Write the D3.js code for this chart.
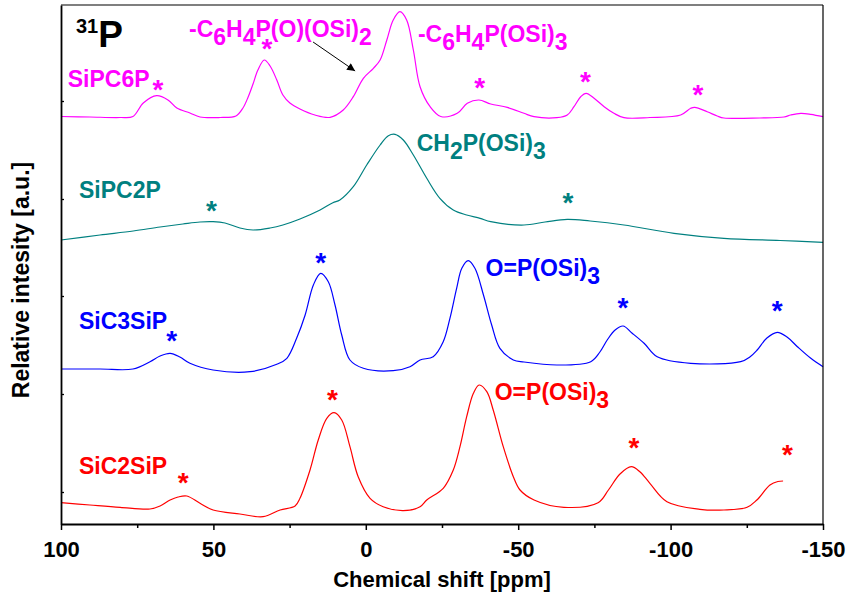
<!DOCTYPE html>
<html><head><meta charset="utf-8">
<script src="https://cdn.jsdelivr.net/npm/d3@7"></script>
<style>
body{margin:0;background:#fff}
text{font-family:"Liberation Sans",Arial,sans-serif;font-weight:bold}
</style>
</head><body><svg id="chart" width="848" height="599"></svg>
<script>
// ---- data: [chemical shift (ppm), relative intensity (a.u.)] ----
const SiPC6P = [[100,407.5],[90.5,407],[80.6,406.5],[76.4,407.5],[73.0,421],[68.6,428.3],[64.9,424],[62.0,416],[57.7,411],[54.4,407],[47.8,406.5],[42.6,408],[40.3,416],[38.6,427],[37.0,440],[35.4,454],[33.3,464],[31.4,458],[29.2,444],[27.2,429],[24.9,421],[21.6,415],[16.7,409],[11.7,406.7],[7.4,414],[4.1,427.3],[0.8,445.7],[-2.5,455.7],[-4.7,464],[-6.9,484],[-9.0,504],[-11.2,512.3],[-13.4,504],[-15.6,474],[-17.8,437.3],[-21.1,417.3],[-24.6,407.5],[-30.0,410.7],[-33.3,420.7],[-37.1,424],[-41.0,420],[-46.4,416.7],[-51.9,410.7],[-55.2,407.3],[-62.7,406.3],[-66.1,409],[-68.3,417.3],[-70.5,427.3],[-72.3,430.7],[-74.9,425.7],[-78.2,417.3],[-81.4,410.7],[-84.7,406.3],[-93.2,406.5],[-103.3,409],[-106.6,415.7],[-107.9,416.7],[-112.0,412.3],[-115.3,408],[-117.5,406],[-129.3,406],[-137.2,407],[-139.4,409],[-142.7,410.7],[-146.0,409.7],[-150,407.3]];
const SiPC2P = [[100,284],[87.2,289],[76.3,293],[67.5,297],[60.0,300],[54.4,302],[50.1,302.3],[46.2,301],[41.3,296],[37.0,294],[31.4,296],[27.2,299],[21.6,305],[15.0,314],[10.8,321.3],[8.5,324],[4.1,337.3],[-0.3,359],[-4.7,379],[-7.4,388.3],[-9.6,389.7],[-12.3,384],[-15.6,369],[-20.0,345.7],[-24.3,325.7],[-28.7,314],[-33.1,309],[-37.5,305.7],[-41.0,302.3],[-51.9,299],[-58.8,302],[-66.1,304.7],[-73.6,303],[-84.7,299],[-101.1,290.7],[-117.5,285.7],[-135.9,283.5],[-150,281.7]];
const SiC3SiP = [[100,155],[87.2,155],[76.4,155],[70.8,162.3],[67.5,168],[64.2,170.7],[61.0,167],[57.7,160.7],[50.1,154],[38.0,152.3],[29.2,159.7],[25.9,165.7],[22.7,185.7],[19.9,209],[17.2,239],[14.8,250.7],[12.3,242.3],[10.1,219],[7.9,189],[5.2,164],[0.8,155.7],[-9.0,153.3],[-14.5,157.3],[-17.8,164],[-22.1,167.3],[-25.4,182.3],[-27.6,205.7],[-29.8,235.7],[-31.5,255.7],[-33.6,263.3],[-35.8,255.7],[-38.6,229],[-41.3,199],[-44.0,175.7],[-48.4,164],[-51.9,162],[-62.8,159],[-73.8,162.3],[-76.8,172],[-79.2,184],[-81.8,194],[-84.4,198],[-87.3,191],[-91.3,180.7],[-95.6,167.3],[-106.6,160.7],[-123.0,162.3],[-126.0,167],[-128.4,174],[-131.6,186],[-135.0,191.7],[-138.2,187],[-141.6,177.3],[-146.0,165.7],[-150,157.3]];
const SiC2SiP = [[100,21.3],[90.5,19],[80.6,16.7],[70.8,15],[67.5,18],[64.2,24],[61.6,27],[58.7,28],[54.4,20.7],[50.1,14],[41.3,10],[33.7,7.3],[28.1,14],[23.2,18],[21.6,25.7],[18.3,54],[15.6,84],[12.8,105.7],[10.4,111.3],[7.9,104],[5.2,77.3],[2.5,47.3],[-1.4,25.7],[-5.7,17.3],[-12.3,13.3],[-17.8,17.3],[-20.0,24],[-25.4,35.7],[-28.7,54],[-30.9,77.3],[-33.1,107.3],[-35.3,130.7],[-37.2,139],[-39.7,132.3],[-41.8,114],[-45.1,77.3],[-48.4,47.3],[-50.6,34],[-55.2,24],[-65.0,16.7],[-76.2,21.3],[-79.6,34],[-83.4,50],[-87.1,57.3],[-90.0,52],[-93.2,40.7],[-98.8,22.3],[-109.6,14.7],[-117.5,14],[-125.1,16.7],[-128.3,24],[-132.6,39],[-135.2,42.5],[-136.9,43]];

const seriesNames = ["SiPC6P","SiPC2P","SiC3SiP","SiC2SiP"];
const seriesData  = [SiPC6P, SiPC2P, SiC3SiP, SiC2SiP];
const seriesColors = ["#FF00FF","#008080","#0000FF","#FF0000"];

// series name labels: [name, ppm, intensity]
const nameLabels = [["SiPC6P",97.8,436.7],["SiPC2P",94.1,326.3],["SiC3SiP",94.1,194.7],["SiC2SiP",94.1,49.7]];
// assignment labels ("_" marks a subscript character): [text, ppm, intensity, series index]
const peakLabels = [["-C_6H_4P(O)(OSi)_2",58.0,487,0],["-C_6H_4P(OSi)_3",-17.1,482.3,0],["CH_2P(OSi)_3",-16.7,373,1],["O=P(OSi)_3",-39.3,248,2],["O=P(OSi)_3",-42.3,124,3]];
// spinning side bands (*): [ppm, intensity, series index]
const stars = [[68.2,441,0],[32.4,482,0],[-37.4,442.3,0],[-72.1,449,0],[-109.0,435.7,0],
  [50.6,320,1],[-66.3,328,1],
  [63.7,189.3,2],[14.8,267.7,2],[-84.4,223,2],[-135.0,220,2],
  [59.9,48,3],[10.9,131,3],[-88.0,82.3,3],[-138.3,76,3]];
const arrowPts = [[17.3,482],[3.5,453]];

const xMajor = [100,50,0,-50,-100,-150];
const xMinor = [75,25,-25,-75,-125];
const yTicks = [32,130,228,325,423];

const svg = d3.select("#chart");
const W = 848, H = 599;
const m = {left:61, right:25, top:5, bottom:75};
const x = d3.scaleLinear().domain([100,-150]).range([m.left, W-m.right]);
const y = d3.scaleLinear().domain([0,519]).range([H-m.bottom, m.top]);

svg.append("rect").attr("width",W).attr("height",H).attr("fill","#fff");

// spectra
const line = d3.line().x(d=>x(d[0])).y(d=>y(d[1])).curve(d3.curveCatmullRom.alpha(0.5));
seriesData.forEach((s,i)=>{
  svg.append("path").datum(s).attr("d",line).attr("fill","none")
    .attr("stroke",seriesColors[i]).attr("stroke-width",1.2);
});

// frame
svg.append("line").attr("x1",x(100)).attr("x2",x(-150)).attr("y1",y(519)).attr("y2",y(519)).attr("stroke","#000").attr("stroke-width",1.2);
svg.append("line").attr("x1",x(-150)).attr("x2",x(-150)).attr("y1",y(519)).attr("y2",y(0)).attr("stroke","#000").attr("stroke-width",1.2);

// x axis
const gx = svg.append("g").attr("transform",`translate(0,${y(0)})`);
gx.call(d3.axisBottom(x).tickValues(xMajor).tickSize(6).tickSizeOuter(0).tickPadding(11).tickFormat(d=>String(d)));
gx.select(".domain").attr("stroke-width",1.8);
gx.selectAll(".tick line").attr("stroke-width",1.5);
gx.selectAll(".tick text").attr("font-size",22).attr("fill","#000").style("font-family",'"Liberation Sans",Arial,sans-serif').style("font-weight","bold");
const gxm = svg.append("g").attr("transform",`translate(0,${y(0)})`);
gxm.call(d3.axisBottom(x).tickValues(xMinor).tickSize(4).tickFormat(""));
gxm.select(".domain").remove();
gxm.selectAll(".tick line").attr("stroke-width",1.5);

// y axis
const gy = svg.append("g").attr("transform",`translate(${x(100)},0)`);
gy.call(d3.axisLeft(y).tickValues(yTicks).tickSize(-3).tickSizeOuter(0).tickFormat(""));
gy.select(".domain").attr("stroke-width",1.8);
gy.selectAll(".tick line").attr("stroke-width",1.3);

// axis titles
svg.append("text").attr("x",442).attr("y",586.5).attr("text-anchor","middle").attr("font-size",22).text("Chemical shift [ppm]");
svg.append("text").attr("transform","translate(29,280) rotate(-90)").attr("text-anchor","middle").attr("font-size",23).text("Relative intesity [a.u.]");

// 31P
const t31 = svg.append("text").attr("x",x(95.1)).attr("y",y(491));
t31.append("tspan").attr("font-size",20).text("31");
t31.append("tspan").attr("font-size",37).attr("dy",14).text("P");

// series names
nameLabels.forEach((d,i)=>{
  svg.append("text").attr("x",x(d[1])).attr("y",y(d[2])).attr("font-size",23)
    .attr("fill",seriesColors[i]).text(d[0]);
});

// peak labels with subscripts
peakLabels.forEach(d=>{
  const t = svg.append("text").attr("x",x(d[1])).attr("y",y(d[2])).attr("font-size",23).attr("fill",seriesColors[d[3]]);
  const parts = d[0].split("_");
  let sub = false;
  parts.forEach((p,k)=>{
    if(k===0){ if(p) t.append("tspan").text(p); return; }
    t.append("tspan").attr("dy",sub?0:8).text(p[0]);
    sub = true;
    if(p.length>1){ t.append("tspan").attr("dy",-8).text(p.slice(1)); sub=false; }
  });
});

// stars
const starSize = 28;
stars.forEach(d=>{
  svg.append("text").attr("x",x(d[0])).attr("y",y(d[1])+0.56*starSize)
    .attr("text-anchor","middle").attr("font-size",starSize).attr("fill",seriesColors[d[2]]).text("*");
});

// arrow
svg.append("defs").append("marker").attr("id","ah").attr("viewBox","0 0 10 10").attr("refX",10).attr("refY",5)
  .attr("markerWidth",10).attr("markerHeight",8).attr("markerUnits","userSpaceOnUse").attr("orient","auto")
  .append("path").attr("d","M0,0L10,5L0,10Z").attr("fill","#000");
svg.append("line").attr("x1",x(arrowPts[0][0])).attr("y1",y(arrowPts[0][1])).attr("x2",x(arrowPts[1][0])).attr("y2",y(arrowPts[1][1]))
  .attr("stroke","#000").attr("stroke-width",1).attr("marker-end","url(#ah)");
</script></body></html>
